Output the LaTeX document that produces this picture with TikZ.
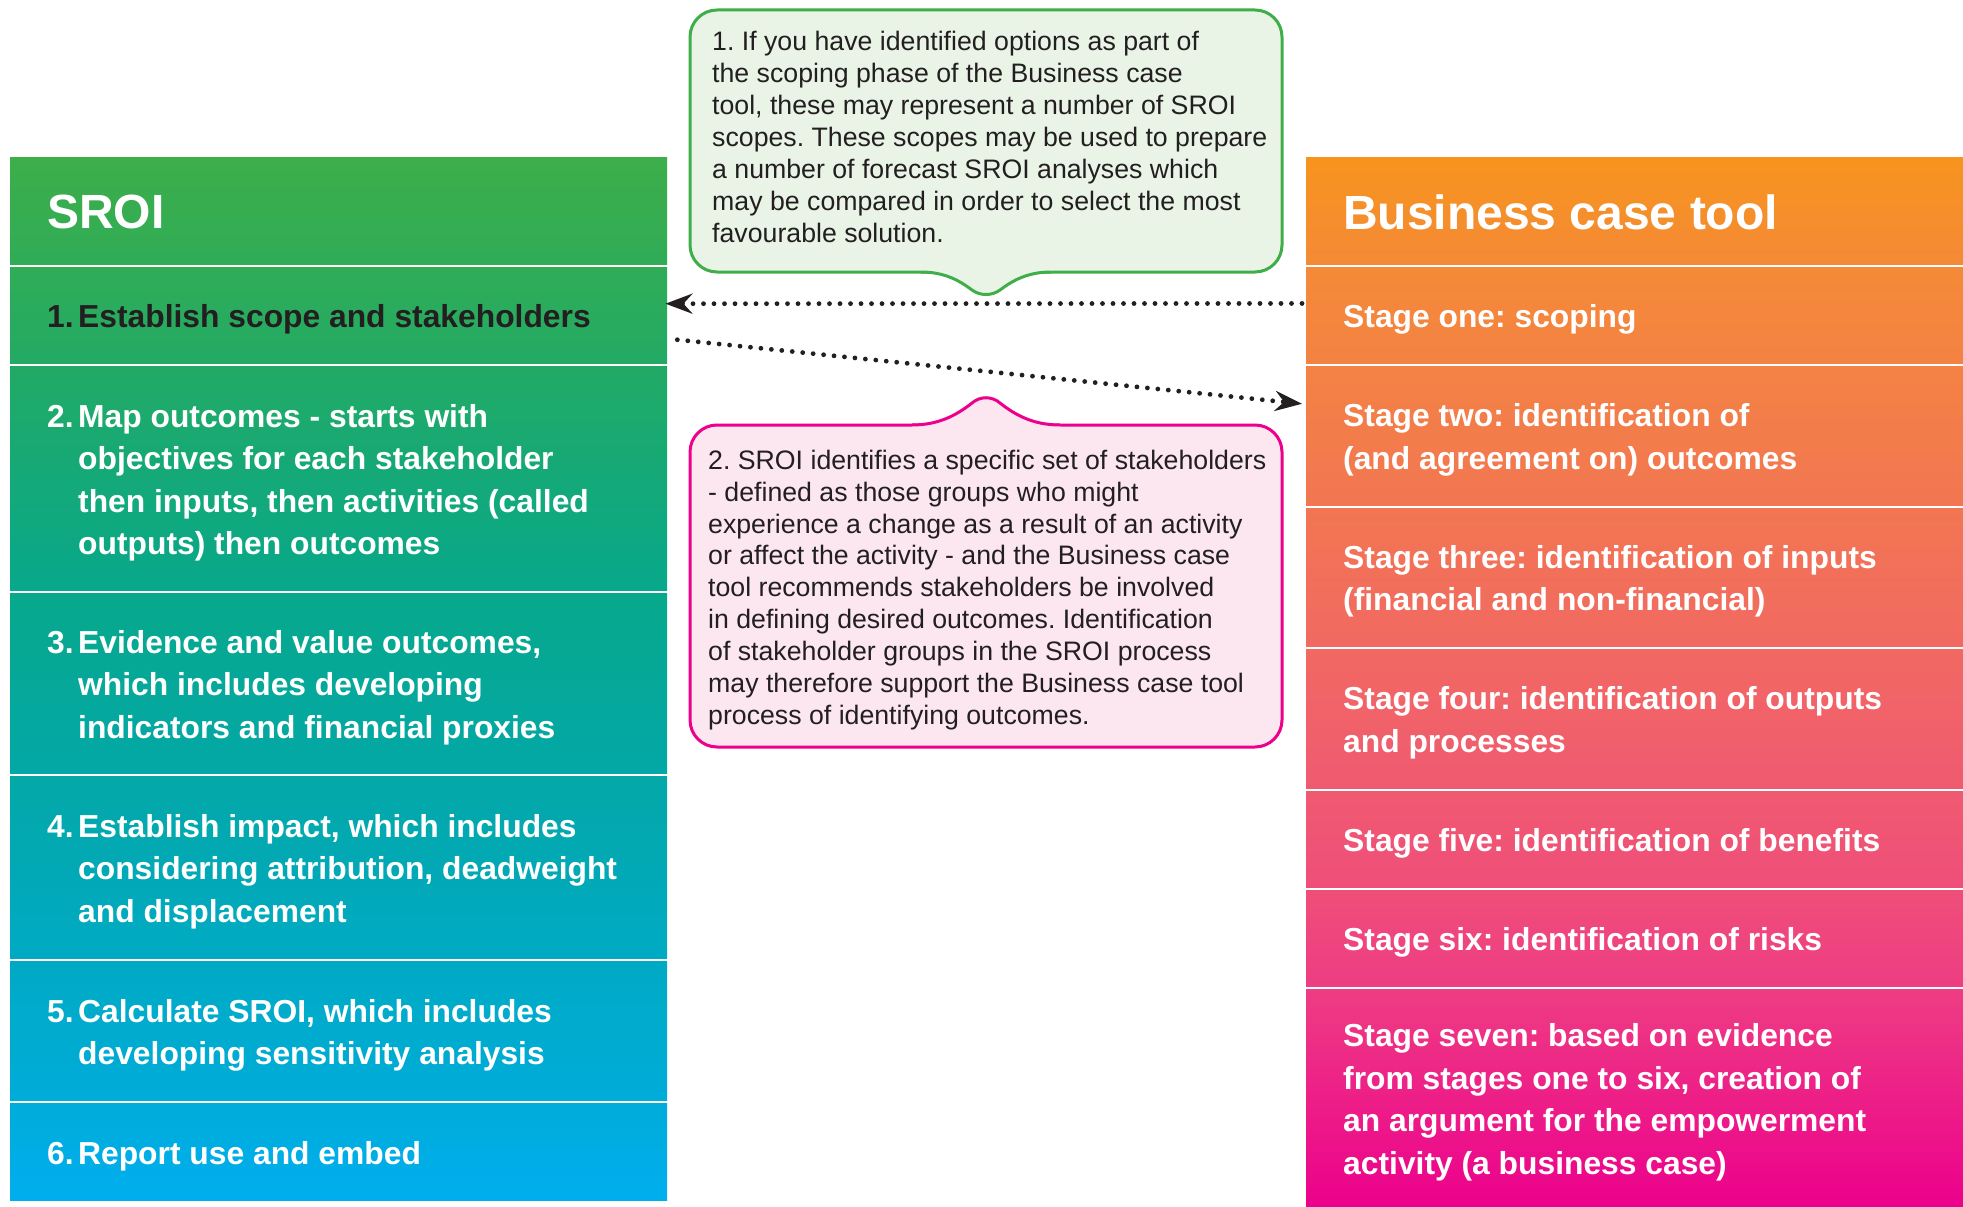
\documentclass[tikz,border=0pt]{standalone}
\usepackage{fontspec}
\setmainfont{Liberation Sans}
\usetikzlibrary{arrows.meta}
\definecolor{LA}{HTML}{3DAE4A}
\definecolor{LB}{HTML}{30AC57}
\definecolor{LC}{HTML}{22AA65}
\definecolor{LD}{HTML}{07A88B}
\definecolor{LE}{HTML}{03A8A7}
\definecolor{LF}{HTML}{00AAC4}
\definecolor{LG}{HTML}{00ACD9}
\definecolor{LH}{HTML}{00AEEF}
\definecolor{RA}{HTML}{F7941D}
\definecolor{RB}{HTML}{F48A37}
\definecolor{RC}{HTML}{F48244}
\definecolor{RD}{HTML}{F27652}
\definecolor{RE}{HTML}{F16962}
\definecolor{RF}{HTML}{F05A71}
\definecolor{RG}{HTML}{EF4E79}
\definecolor{RH}{HTML}{EE3D83}
\definecolor{RI}{HTML}{EC008C}
\definecolor{ink}{HTML}{231F20}
\definecolor{gfill}{HTML}{E9F4E6}
\definecolor{gline}{HTML}{3FAE49}
\definecolor{pfill}{HTML}{FCE7F0}
\definecolor{pline}{HTML}{EC008C}
\newcommand\rowfnt{\fontsize{31.8}{42.5}\selectfont\bfseries}
\newcommand\hdrfnt{\fontsize{48}{56}\selectfont\bfseries}
\newcommand\callfnt{\fontsize{26.7}{31.9}\selectfont}
\newcommand\nbx[1]{\makebox[31pt][l]{#1}}
\newcommand\hng{\hspace*{31pt}}
\frenchspacing
\begin{document}
\frenchspacing
\begin{tikzpicture}[x=1pt,y=-1pt,
  colrow/.style={inner sep=0pt, minimum width=657pt, anchor=north west, draw=none},
  rowtext/.style={inner sep=0pt, anchor=west, align=left, font=\rowfnt, text=white},
  hdrtext/.style={rowtext, font=\hdrfnt},
  calltext/.style={inner sep=0pt, anchor=north west, align=left, font=\callfnt, text=ink},
  dotarrow/.style={draw=ink, line width=4.8pt, line cap=round, dash pattern=on 0pt off 10.5pt,
    -{Stealth[length=27pt,width=20pt,inset=9pt]}}
]
\useasboundingbox (0,0) rectangle (1963,1207);
\fill[white] (0,0) rectangle (1963,1207);

% ---- SROI column ----
\node[colrow, top color=LA, bottom color=LB, minimum height=107.5pt] (lh) at (10,157) {};
\node[colrow, top color=LB, bottom color=LC, minimum height=96pt] (l1) at (10,267.5) {};
\node[colrow, top color=LC, bottom color=LD, minimum height=224pt] (l2) at (10,366.5) {};
\node[colrow, top color=LD, bottom color=LE, minimum height=180pt] (l3) at (10,593.5) {};
\node[colrow, top color=LE, bottom color=LF, minimum height=182pt] (l4) at (10,776.5) {};
\node[colrow, top color=LF, bottom color=LG, minimum height=139pt] (l5) at (10,961.5) {};
\node[colrow, top color=LG, bottom color=LH, minimum height=96.5pt] (l6) at (10,1103.5) {};

\node[hdrtext] (tlh) at ([xshift=37pt,yshift=-1.5pt]lh.west) {SROI};
\node[rowtext, text=ink] (tl1) at ([xshift=37pt,yshift=-4pt]l1.west)
  {\nbx{1.}Establish scope and stakeholders};
\node[rowtext] (tl2) at ([xshift=37pt,yshift=-4pt]l2.west)
  {\nbx{2.}Map outcomes - starts with\\\hng objectives for each stakeholder\\\hng then inputs, then activities (called\\\hng outputs) then outcomes};
\node[rowtext] (tl3) at ([xshift=37pt,yshift=-4pt]l3.west)
  {\nbx{3.}Evidence and value outcomes,\\\hng which includes developing\\\hng indicators and financial proxies};
\node[rowtext] (tl4) at ([xshift=37pt,yshift=-4pt]l4.west)
  {\nbx{4.}Establish impact, which includes\\\hng considering attribution, deadweight\\\hng and displacement};
\node[rowtext] (tl5) at ([xshift=37pt,yshift=-4pt]l5.west)
  {\nbx{5.}Calculate SROI, which includes\\\hng developing sensitivity analysis};
\node[rowtext] (tl6) at ([xshift=37pt,yshift=-4pt]l6.west)
  {\nbx{6.}Report use and embed};

% ---- Business case tool column ----
\node[colrow, top color=RA, bottom color=RB, minimum height=107pt] (rh) at (1306,157) {};
\node[colrow, top color=RB, bottom color=RC, minimum height=96.5pt] (s1) at (1306,267) {};
\node[colrow, top color=RC, bottom color=RD, minimum height=138.5pt] (s2) at (1306,366.5) {};
\node[colrow, top color=RD, bottom color=RE, minimum height=138.5pt] (s3) at (1306,508) {};
\node[colrow, top color=RE, bottom color=RF, minimum height=138.5pt] (s4) at (1306,649.5) {};
\node[colrow, top color=RF, bottom color=RG, minimum height=96pt] (s5) at (1306,791) {};
\node[colrow, top color=RG, bottom color=RH, minimum height=96pt] (s6) at (1306,890) {};
\node[colrow, top color=RH, bottom color=RI, minimum height=218pt] (s7) at (1306,989) {};

\node[hdrtext] (trh) at ([xshift=37pt,yshift=-1.5pt]rh.west) {Business case tool};
\node[rowtext] (ts1) at ([xshift=37pt,yshift=-4pt]s1.west) {Stage one: scoping};
\node[rowtext] (ts2) at ([xshift=37pt,yshift=-4pt]s2.west)
  {Stage two: identification of\\(and agreement on) outcomes};
\node[rowtext] (ts3) at ([xshift=37pt,yshift=-4pt]s3.west)
  {Stage three: identification of inputs\\(financial and non-financial)};
\node[rowtext] (ts4) at ([xshift=37pt,yshift=-4pt]s4.west)
  {Stage four: identification of outputs\\and processes};
\node[rowtext] (ts5) at ([xshift=37pt,yshift=-4pt]s5.west)
  {Stage five: identification of benefits};
\node[rowtext] (ts6) at ([xshift=37pt,yshift=-4pt]s6.west)
  {Stage six: identification of risks};
\node[rowtext] (ts7) at ([xshift=37pt,yshift=-4pt]s7.west)
  {Stage seven: based on evidence\\from stages one to six, creation of\\an argument for the empowerment\\activity (a business case)};

% ---- green callout ----
\draw[draw=gline, fill=gfill, line width=3pt, rounded corners=27pt] (690,10) rectangle (1282,272);
\fill[gfill] (921,269) -- (921,272) .. controls (945,272) and (960,281) .. (972,290)
  .. controls (980,296) and (992,296) .. (1000,290)
  .. controls (1012,281) and (1027,272) .. (1051,272) -- (1051,269) -- cycle;
\draw[draw=gline, line width=3pt] (921,272) .. controls (945,272) and (960,281) .. (972,290)
  .. controls (980,296) and (992,296) .. (1000,290)
  .. controls (1012,281) and (1027,272) .. (1051,272);
\node[calltext] (c1) at (712,28.2) {\strut 1. If you have identified options as part of\\
the scoping phase of the Business case\\
tool, these may represent a number of SROI\\
scopes. These scopes may be used to prepare\\
a number of forecast SROI analyses which\\
may be compared in order to select the most\\
favourable solution.};

% ---- pink callout ----
\draw[draw=pline, fill=pfill, line width=3pt, rounded corners=27pt] (690,425) rectangle (1282,747);
\fill[pfill] (912,428) -- (912,425) .. controls (940,425) and (958,414) .. (972,403)
  .. controls (980,396) and (992,396) .. (1000,403)
  .. controls (1014,414) and (1032,425) .. (1060,425) -- (1060,428) -- cycle;
\draw[draw=pline, line width=3pt] (912,425) .. controls (940,425) and (958,414) .. (972,403)
  .. controls (980,396) and (992,396) .. (1000,403)
  .. controls (1014,414) and (1032,425) .. (1060,425);
\node[calltext] (c2) at (708,446.7) {\strut 2. SROI identifies a specific set of stakeholders\\
- defined as those groups who might\\
experience a change as a result of an activity\\
or affect the activity - and the Business case\\
tool recommends stakeholders be involved\\
in defining desired outcomes. Identification\\
of stakeholder groups in the SROI process\\
may therefore support the Business case tool\\
process of identifying outcomes.};

% ---- connectors ----
\draw[dotarrow, shorten <=4pt, shorten >=-2pt] ([yshift=12pt]s1.west) -- ([yshift=12pt]l1.east);
\draw[dotarrow, shorten <=10pt, shorten >=4pt] ([yshift=-23pt]l1.east) -- ([yshift=31.75pt]s2.west);
\end{tikzpicture}
\end{document}
